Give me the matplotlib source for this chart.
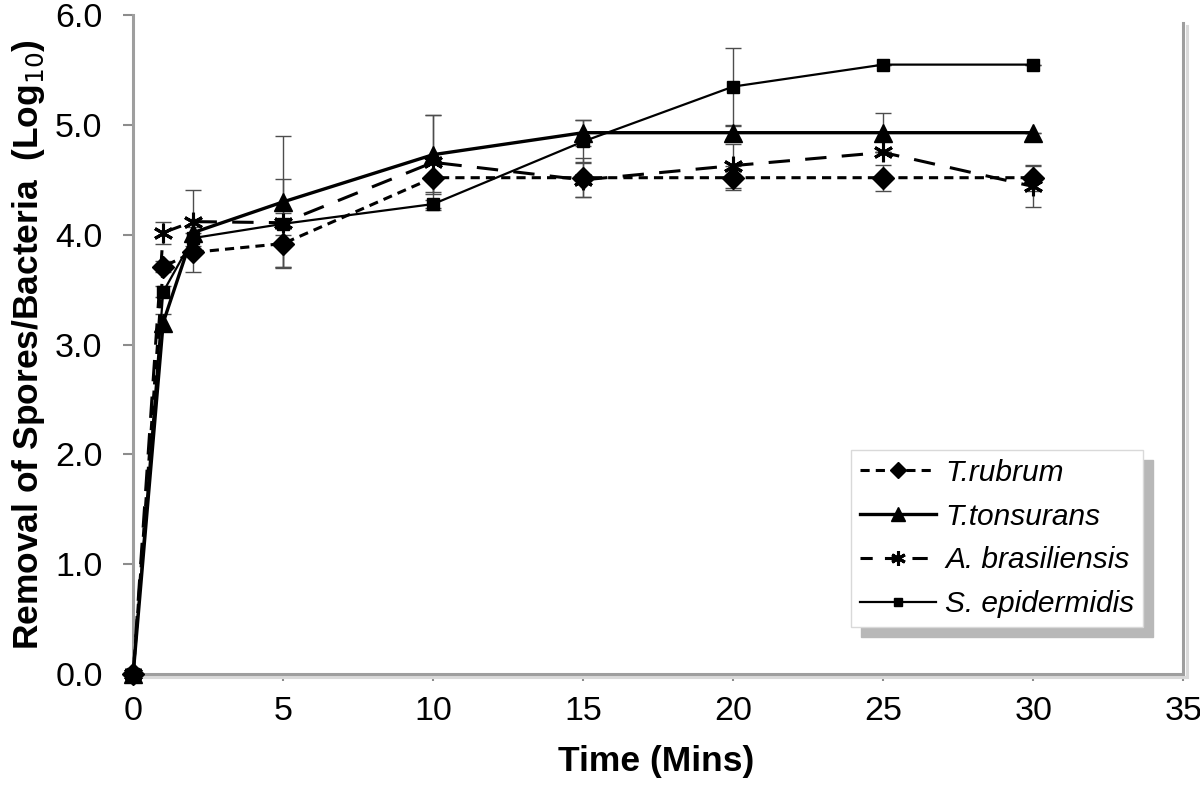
import matplotlib.pyplot as plt
import matplotlib.patheffects as pe

plt.rcParams['font.family'] = ['Liberation Sans', 'DejaVu Sans']

# Time points (minutes)
time = [0, 1, 2, 5, 10, 15, 20, 25, 30]

# Log10 removal per organism
rubrum = [0.0, 3.71, 3.84, 3.92, 4.52, 4.52, 4.52, 4.52, 4.52]
tonsurans = [0.0, 3.20, 4.02, 4.30, 4.73, 4.93, 4.93, 4.93, 4.93]
brasiliensis = [0.0, 4.02, 4.12, 4.11, 4.66, 4.50, 4.63, 4.75, 4.44]
epidermidis = [0.0, 3.48, 3.97, 4.10, 4.28, 4.85, 5.35, 5.55, 5.55]

# Error bars (standard deviation)
rubrum_err = [0.0, 0.05, 0.18, 0.21, 0.13, 0.18, 0.11, 0.12, 0.12]
tonsurans_err = [0.0, 0.08, 0.12, 0.60, 0.36, 0.12, 0.06, 0.18, 0.0]
brasiliensis_err = [0.0, 0.10, 0.29, 0.40, 0.43, 0.16, 0.20, 0.0, 0.19]
epidermidis_err = [0.0, 0.05, 0.10, 0.10, 0.04, 0.20, 0.35, 0.0, 0.0]

fig = plt.figure(figsize=(12, 7.88), dpi=100)
ax = fig.add_axes([0.111, 0.1447, 0.875, 0.836])

series = [
    (rubrum, rubrum_err, 'T.rubrum',
     dict(lw=2.2, linestyle=(0, (3, 2)), marker='D', markersize=11)),
    (tonsurans, tonsurans_err, 'T.tonsurans',
     dict(lw=2.4, linestyle='-', marker='^', markersize=12.5)),
    (brasiliensis, brasiliensis_err, 'A. brasiliensis',
     dict(lw=2.2, linestyle=(0, (7, 5)), marker=(6, 2, 0), markersize=14,
          markeredgewidth=2.2)),
    (epidermidis, epidermidis_err, 'S. epidermidis',
     dict(lw=1.6, linestyle='-', marker='s', markersize=8.5)),
]

for vals, errs, name, style in series:
    ax.errorbar(time, vals, yerr=errs, fmt='none', ecolor='0.3',
                elinewidth=1.0, capsize=6, capthick=1.0)
    ax.plot(time, vals, color='black', label=name, clip_on=False,
            zorder=4, **style)

ax.set_xlim(0, 35)
ax.set_ylim(0, 6)
ax.set_xticks(range(0, 36, 5))
ax.set_yticks([0, 1, 2, 3, 4, 5, 6])
ax.set_yticklabels(['%.1f' % v for v in ax.get_yticks()])
ax.tick_params(labelsize=24.5, color='0.55', width=1.5)
ax.tick_params(axis='x', length=5, pad=10.5)
ax.tick_params(axis='y', length=7, pad=15)

ax.set_xlabel('Time (Mins)', fontsize=25.5, fontweight='bold')
ax.set_ylabel('Removal of Spores/Bacteria  (Log$_{10}$)', fontsize=25.5,
              fontweight='bold')
ax.xaxis.set_label_coords(0.498, -0.108)
ax.yaxis.set_label_coords(-0.082, 0.5)

# grey frame with a drop shadow on the bottom and right
shadow = [pe.SimpleLineShadow(offset=(2.5, -2.5), shadow_color='0.85', alpha=1),
          pe.Normal()]
ax.spines['top'].set_visible(False)
for side in ['left', 'bottom', 'right']:
    ax.spines[side].set_color('0.62')
    ax.spines[side].set_linewidth(2.2)
ax.spines['bottom'].set_path_effects(shadow)
ax.spines['right'].set_path_effects(shadow)
ax.spines['right'].set_bounds(0, 5.93)

leg = ax.legend(loc='lower right', bbox_to_anchor=(0.962, 0.071),
                prop={'style': 'italic', 'size': 21.5}, frameon=True,
                fancybox=False, edgecolor='0.85', handlelength=2.55,
                labelspacing=0.53, borderpad=0.3, handletextpad=0.3,
                borderaxespad=0,
                shadow={'color': '0.72', 'alpha': 1, 'ox': 7, 'oy': -7})
leg.set_zorder(6)
leg.get_frame().set_linewidth(1.0)
for h in leg.legend_handles:
    h.set_markersize(h.get_markersize() * 0.75)
leg.legend_handles[2].set_linestyle((1, (5, 4)))

fig.savefig('out.png', dpi=100)
